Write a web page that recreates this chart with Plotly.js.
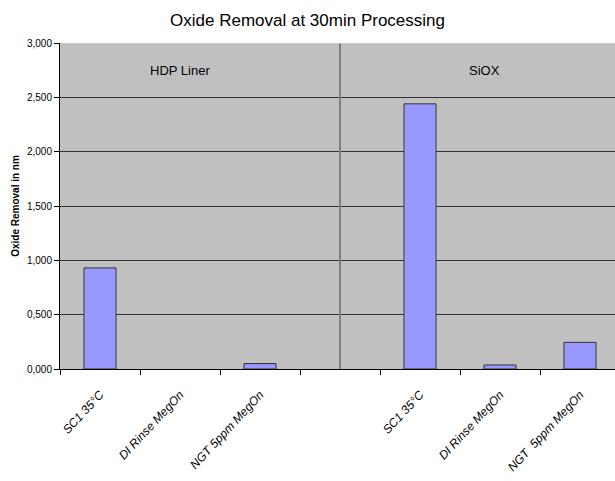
<!DOCTYPE html>
<html>
<head>
<meta charset="utf-8">
<script src="https://cdn.plot.ly/plotly-3.0.1.min.js"></script>
<style>html,body{margin:0;padding:0;background:#fff;}#chart{width:615px;height:481px;}</style>
</head>
<body>
<div id="chart"></div>
<script>
const groupNames = ["HDP Liner", "SiOX"];
const hdpCategories = ["SC1 35°C", "DI Rinse MegOn", "NGT 5ppm MegOn"];
const sioxCategories = ["SC1 35°C", "DI Rinse MegOn", "NGT  5ppm MegOn"];
const hdpValues = [930, null, 50];
const sioxValues = [2440, 37, 245];
const yTickVals = [0, 500, 1000, 1500, 2000, 2500, 3000];
const yTickText = ["0,000", "0,500", "1,000", "1,500", "2,000", "2,500", "3,000"];

const hdpX = hdpCategories.map((c, i) => i);
const sioxX = sioxCategories.map((c, i) => i + hdpCategories.length + 1);
const allX = hdpX.concat([hdpCategories.length]).concat(sioxX);
const allLabels = hdpCategories.concat([""]).concat(sioxCategories);

const barStyle = {color: "#9999FF", line: {color: "#333333", width: 1}};
const traces = [
  {type: "bar", x: hdpX, y: hdpValues, width: 0.4, marker: barStyle, hoverinfo: "y"},
  {type: "bar", x: sioxX, y: sioxValues, width: 0.4, marker: barStyle, hoverinfo: "y"}
];

const sepX = hdpCategories.length;
const layout = {
  width: 615, height: 481,
  margin: {l: 60, r: 0, t: 43, b: 112},
  paper_bgcolor: "#ffffff",
  plot_bgcolor: "#C0C0C0",
  showlegend: false,
  font: {family: "Liberation Sans, Arial, sans-serif", color: "#000"},
  title: {text: "Oxide Removal at 30min Processing", font: {size: 17, family: "Liberation Sans, Arial, sans-serif"}, x: 0.5, xanchor: "center", y: 0.958, yanchor: "middle"},
  xaxis: {
    range: [-0.5, 6.4375],
    tickmode: "array", tickvals: allX, ticktext: allLabels,
    tickangle: -47, ticks: "", ticklabelstandoff: 13,
    tickfont: {size: 12, style: "italic", family: "Liberation Sans, Arial, sans-serif"},
    showgrid: false, zeroline: false,
    showline: true, linecolor: "#000", linewidth: 1,
    minor: {tickmode: "linear", tick0: 0.5, dtick: 1, ticks: "outside", ticklen: 5, tickcolor: "#000", tickwidth: 1, showgrid: false},
    fixedrange: true
  },
  yaxis: {
    range: [0, 3000],
    tickmode: "array", tickvals: yTickVals, ticktext: yTickText,
    ticks: "outside", ticklen: 5, tickcolor: "#000",
    tickfont: {size: 10, family: "Liberation Sans Narrow, Liberation Sans, Arial, sans-serif"},
    showgrid: true, gridcolor: "#333333", gridwidth: 1,
    zeroline: false, showline: true, linecolor: "#000", linewidth: 1,
    title: {text: "Oxide Removal in nm", font: {size: 10, weight: "bold"}, standoff: 5},
    fixedrange: true
  },
  shapes: [
    {type: "line", xref: "x", yref: "y", x0: sepX, x1: sepX, y0: 0, y1: 3000, line: {color: "#7f7f7f", width: 2}},
    {type: "line", xref: "paper", yref: "y", x0: 0, x1: 1, y0: 3000, y1: 3000, line: {color: "#d8d8d8", width: 1}}
  ],
  annotations: [
    {x: 1, y: 2745, xref: "x", yref: "y", text: groupNames[0], showarrow: false, font: {size: 13}},
    {x: 4.8, y: 2745, xref: "x", yref: "y", text: groupNames[1], showarrow: false, font: {size: 13}}
  ]
};

Plotly.newPlot("chart", traces, layout, {displayModeBar: false, staticPlot: true});
</script>
</body>
</html>
